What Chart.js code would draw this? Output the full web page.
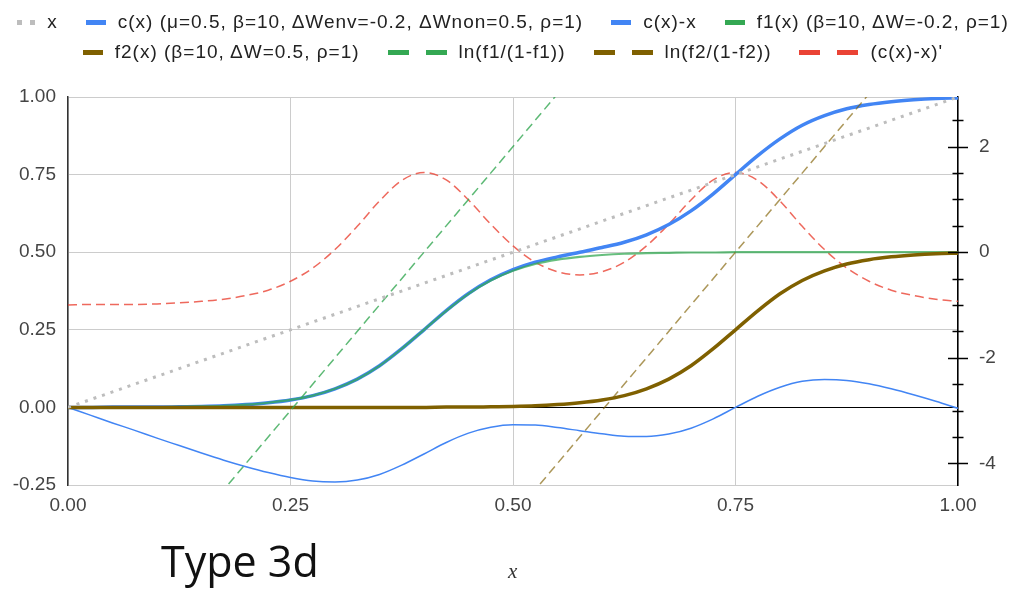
<!DOCTYPE html>
<html>
<head>
<meta charset="utf-8">
<script src="https://cdn.jsdelivr.net/npm/chart.js@4.4.1/dist/chart.umd.min.js"></script>
<style>
  body { margin: 0; background: #fff; }
  #wrap { position: relative; width: 1014px; height: 590px; overflow: hidden; }
  #chart { position: absolute; left: 0; top: 0; }
  #legend { position: absolute; left: 6px; top: 7px; width: 1014px; font-family: "Liberation Sans", Arial, sans-serif; font-size: 19px; letter-spacing: 1px; color: #222; }
  .row { display: flex; justify-content: center; align-items: center; height: 30px; white-space: nowrap; }
  .item { display: flex; align-items: center; margin: 0 14px; }
  .mark { display: flex; align-items: center; margin-right: 12px; }
  .mark span { display: block; }
  #title { position: absolute; left: 161px; top: 539px; font-family: "Open Sans", sans-serif; font-size: 43px; line-height: 43px; color: #111; }
  #xtitle { position: absolute; left: 508px; top: 559px; font-family: "Liberation Serif", serif; font-style: italic; font-size: 21px; color: #333; }
</style>
</head>
<body>
<div id="wrap">
  <canvas id="chart" width="1014" height="590"></canvas>
  <div id="legend"></div>
  <div id="title">Type 3d</div>
  <div id="xtitle">x</div>
</div>
<script>
// sample positions along x
const xs = [0, 0.025, 0.05, 0.075, 0.1, 0.125, 0.15, 0.175, 0.2, 0.225, 0.25, 0.275, 0.3, 0.325, 0.35, 0.375, 0.4, 0.425, 0.45, 0.475, 0.5,
            0.525, 0.55, 0.575, 0.6, 0.625, 0.65, 0.675, 0.7, 0.725, 0.75, 0.775, 0.8, 0.825, 0.85, 0.875, 0.9, 0.925, 0.95, 0.975, 1];

// left axis series
const cVals  = [0.000, 0.000, 0.001, 0.001, 0.001, 0.002, 0.003, 0.005, 0.009, 0.015, 0.024, 0.038, 0.060, 0.091, 0.134, 0.189, 0.250, 0.312, 0.367, 0.411, 0.444,
                0.468, 0.485, 0.500, 0.515, 0.532, 0.556, 0.589, 0.633, 0.688, 0.750, 0.811, 0.865, 0.909, 0.940, 0.962, 0.976, 0.985, 0.991, 0.995, 0.997];
const cMinusX = [0.000, -0.025, -0.050, -0.074, -0.099, -0.123, -0.147, -0.170, -0.191, -0.210, -0.226, -0.237, -0.240, -0.234, -0.216, -0.186, -0.150, -0.113, -0.083, -0.064, -0.056,
                 -0.057, -0.065, -0.075, -0.085, -0.093, -0.094, -0.086, -0.067, -0.037, 0.000, 0.036, 0.065, 0.084, 0.090, 0.087, 0.076, 0.060, 0.041, 0.020, -0.003];
const f1Vals = [0.000, 0.000, 0.000, 0.001, 0.001, 0.002, 0.003, 0.005, 0.009, 0.015, 0.024, 0.038, 0.060, 0.091, 0.134, 0.189, 0.250, 0.311, 0.366, 0.409, 0.440,
                0.462, 0.476, 0.485, 0.491, 0.495, 0.497, 0.498, 0.499, 0.499, 0.500, 0.500, 0.500, 0.500, 0.500, 0.500, 0.500, 0.500, 0.500, 0.500, 0.500];
const f2Vals = [0.000, 0.000, 0.000, 0.000, 0.000, 0.000, 0.000, 0.000, 0.000, 0.000, 0.000, 0.000, 0.000, 0.000, 0.000, 0.000, 0.000, 0.001, 0.001, 0.002, 0.003,
                0.005, 0.009, 0.015, 0.024, 0.038, 0.060, 0.091, 0.134, 0.189, 0.250, 0.311, 0.366, 0.409, 0.440, 0.462, 0.476, 0.485, 0.491, 0.495, 0.497];
const diagX = [0, 1];
const diagY = [0, 1];

// right axis series
const dVals = [-1.00, -0.99, -0.99, -0.99, -0.98, -0.96, -0.93, -0.89, -0.82, -0.72, -0.55, -0.30, 0.05, 0.49, 0.97, 1.36, 1.51, 1.37, 0.99, 0.53, 0.12,
               -0.19, -0.37, -0.43, -0.37, -0.19, 0.12, 0.53, 0.99, 1.37, 1.51, 1.36, 0.97, 0.49, 0.05, -0.30, -0.55, -0.72, -0.82, -0.89, -0.93];
const ln1X = [0.15, 0.3, 0.45, 0.6];
const ln1Y = [-5, -2, 1, 4];
const ln2X = [0.5, 0.65, 0.8, 0.95];
const ln2Y = [-5, -2, 1, 4];

// axis ticks
const leftTicks = [-0.25, 0, 0.25, 0.5, 0.75, 1];
const xTicks = [0, 0.25, 0.5, 0.75, 1];
const rightTicks = [-4, -3.5, -3, -2.5, -2, -1.5, -1, -0.5, 0, 0.5, 1, 1.5, 2, 2.5];
const rightLabels = [-4, -2, 0, 2];

const pts = (xArr, yArr) => xArr.map((x, i) => ({ x: x, y: yArr[i] }));

const datasets = [
  { label: 'x', data: pts(diagX, diagY), yAxisID: 'y', borderColor: '#bdbdbd', borderWidth: 3, borderDash: [3, 6],
    legendColor: '#bdbdbd', legendKind: 'dot', order: 0 },
  { label: 'c(x) (μ=0.5, β=10, ΔWenv=-0.2, ΔWnon=0.5, ρ=1)', data: pts(xs, cVals), yAxisID: 'y', borderColor: '#4285f4', borderWidth: 3.5,
    legendColor: '#4285f4', legendKind: 'solid', order: 5 },
  { label: 'c(x)-x', data: pts(xs, cMinusX), yAxisID: 'y', borderColor: '#4285f4', borderWidth: 1.5,
    legendColor: '#4285f4', legendKind: 'solid', order: 4 },
  { label: 'f1(x) (β=10, ΔW=-0.2, ρ=1)', data: pts(xs, f1Vals), yAxisID: 'y', borderColor: 'rgba(52,168,83,0.75)', borderWidth: 2.2,
    legendColor: '#34a853', legendKind: 'solid', order: 3 },
  { label: 'f2(x) (β=10, ΔW=0.5, ρ=1)', data: pts(xs, f2Vals), yAxisID: 'y', borderColor: '#7f6000', borderWidth: 3.5,
    legendColor: '#7f6000', legendKind: 'solid', order: 2 },
  { label: 'ln(f1/(1-f1))', data: pts(ln1X, ln1Y), yAxisID: 'y2', borderColor: 'rgba(52,168,83,0.8)', borderWidth: 1.5, borderDash: [9, 5],
    legendColor: '#34a853', legendKind: 'dash', order: 1 },
  { label: 'ln(f2/(1-f2))', data: pts(ln2X, ln2Y), yAxisID: 'y2', borderColor: 'rgba(127,96,0,0.65)', borderWidth: 1.5, borderDash: [9, 5],
    legendColor: '#7f6000', legendKind: 'dash', order: 1 },
  { label: "(c(x)-x)'", data: pts(xs, dVals), yAxisID: 'y2', borderColor: 'rgba(234,67,53,0.8)', borderWidth: 1.5, borderDash: [9, 5],
    legendColor: '#ea4335', legendKind: 'dash', order: 6 }
];
datasets.forEach(d => {
  d.pointRadius = 0;
  d.fill = false;
  d.cubicInterpolationMode = 'monotone';
});

// right axis cross-shaped tick marks
const crossTicks = {
  id: 'crossTicks',
  afterDraw(chart) {
    const s = chart.scales.y2;
    const ctx = chart.ctx;
    const x = s.left;
    ctx.save();
    ctx.strokeStyle = '#000';
    ctx.lineWidth = 1.5;
    rightTicks.forEach(v => {
      const y = Math.round(s.getPixelForValue(v)) + 0.5;
      const w = rightLabels.includes(v) ? 10 : 5.5;
      ctx.beginPath();
      ctx.moveTo(x - w, y);
      ctx.lineTo(x + w, y);
      ctx.stroke();
    });
    ctx.restore();
  }
};

Chart.defaults.font.family = '"Liberation Sans", Arial, sans-serif';
Chart.defaults.font.size = 19;
Chart.defaults.color = '#444';

new Chart(document.getElementById('chart').getContext('2d'), {
  type: 'line',
  data: { datasets: datasets },
  options: {
    responsive: false,
    animation: false,
    devicePixelRatio: 1,
    layout: { padding: { top: 97, left: 0, right: 0, bottom: 0 } },
    plugins: { legend: { display: false }, tooltip: { enabled: false } },
    scales: {
      x: {
        type: 'linear', min: 0, max: 1,
        afterFit: s => { s.height = 105; },
        afterBuildTicks: s => { s.ticks = xTicks.map(v => ({ value: v })); },
        ticks: { padding: 9, callback: v => v.toFixed(2) },
        grid: { color: '#cccccc', drawTicks: false },
        border: { color: '#cccccc' }
      },
      y: {
        position: 'left', min: -0.25, max: 1,
        afterFit: s => { s.width = 68; },
        afterBuildTicks: s => { s.ticks = leftTicks.map(v => ({ value: v })); },
        ticks: { padding: 12, callback: v => v.toFixed(2) },
        grid: { drawTicks: false, color: c => (c.tick && c.tick.value === 0 ? '#000000' : '#cccccc') },
        border: { color: '#333333', width: 1.5 }
      },
      y2: {
        position: 'right', min: -4.41, max: 2.94,
        afterFit: s => { s.width = 56; },
        afterBuildTicks: s => { s.ticks = rightTicks.map(v => ({ value: v })); },
        ticks: { padding: 13, autoSkip: false, callback: v => (rightLabels.includes(v) ? String(v) : '') },
        grid: { display: false },
        border: { color: '#000000', width: 1.5 }
      }
    }
  },
  plugins: [crossTicks]
});

// html legend from the datasets
const legend = document.getElementById('legend');
const rows = [datasets.slice(0, 4), datasets.slice(4)];
rows.forEach(list => {
  const row = document.createElement('div');
  row.className = 'row';
  list.forEach(d => {
    const item = document.createElement('div');
    item.className = 'item';
    const mark = document.createElement('div');
    mark.className = 'mark';
    const parts = d.legendKind === 'solid' ? [[20, 5, 0]] :
                  d.legendKind === 'dash' ? [[21, 5, 0], [21, 5, 17]] :
                  [[5, 5, 0], [5, 5, 8]];
    parts.forEach(p => {
      const sp = document.createElement('span');
      sp.style.width = p[0] + 'px';
      sp.style.height = p[1] + 'px';
      sp.style.marginLeft = p[2] + 'px';
      sp.style.background = d.legendColor;
      mark.appendChild(sp);
    });
    const txt = document.createElement('span');
    txt.textContent = d.label;
    item.appendChild(mark);
    item.appendChild(txt);
    row.appendChild(item);
  });
  legend.appendChild(row);
});
</script>
</body>
</html>
